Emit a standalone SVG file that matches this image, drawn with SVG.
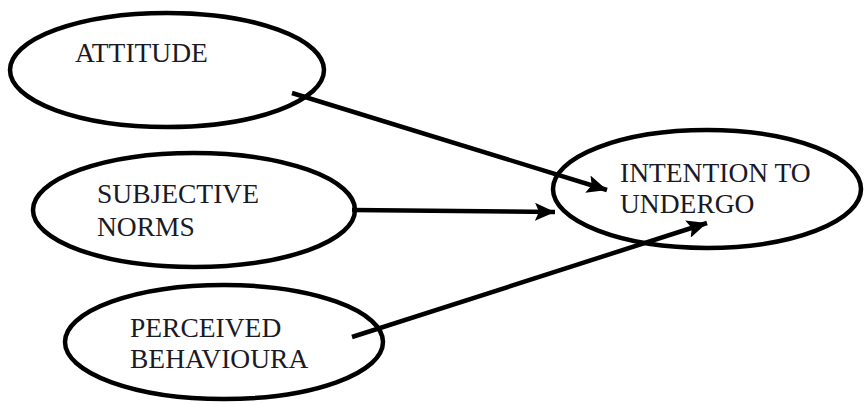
<svg xmlns="http://www.w3.org/2000/svg" width="864" height="405" viewBox="0 0 864 405">
  <style>
    .node ellipse { fill: #ffffff; stroke: #000000; stroke-width: 4.5; }
    .node text { font-family: 'Liberation Serif', 'Times New Roman', serif; font-size: 27.5px; fill: #1a1a26; }
    .edge { stroke: #000000; stroke-width: 4.5; fill: none; marker-end: url(#arrow); }
  </style>
  <defs>
    <marker id="arrow" markerUnits="userSpaceOnUse" markerWidth="22" markerHeight="18" refX="20" refY="9" orient="auto">
      <path d="M0,0 L20,9 L0,18 L4,9 Z" fill="#000000"/>
    </marker>
  </defs>
  <rect width="864" height="405" fill="#ffffff"/>

  <g id="attitude" class="node">
    <ellipse cx="167" cy="70" rx="157" ry="57"/>
    <text x="75" y="62">ATTITUDE</text>
  </g>

  <g id="subjective-norms" class="node">
    <ellipse cx="194" cy="210" rx="161" ry="57"/>
    <text x="97" y="203">SUBJECTIVE</text>
    <text x="97" y="236">NORMS</text>
  </g>

  <g id="perceived-behavioural" class="node">
    <ellipse cx="224" cy="342" rx="159" ry="57"/>
    <text x="130" y="337">PERCEIVED</text>
    <text x="130" y="368">BEHAVIOURA</text>
  </g>

  <g id="intention" class="node">
    <ellipse cx="707" cy="189" rx="154" ry="59"/>
    <text x="620" y="182">INTENTION TO</text>
    <text x="620" y="213">UNDERGO</text>
  </g>

  <g id="connectors">
    <line class="edge" x1="292" y1="93" x2="607" y2="190"/>
    <line class="edge" x1="352" y1="210" x2="555" y2="212"/>
    <line class="edge" x1="352" y1="337" x2="707" y2="223"/>
  </g>
</svg>
